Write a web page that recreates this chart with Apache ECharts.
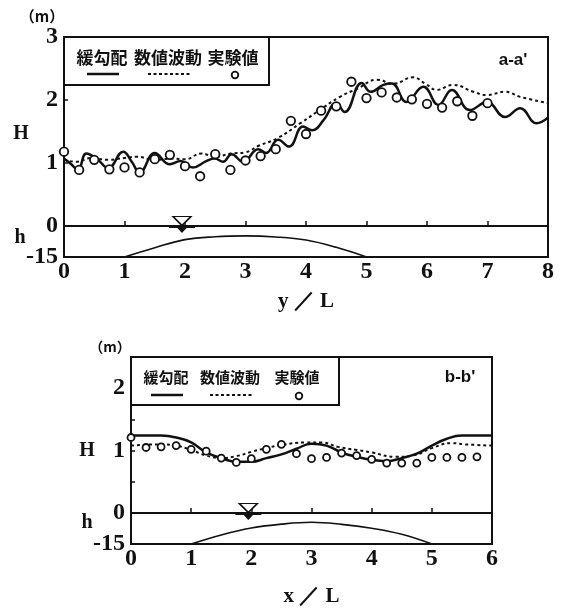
<!DOCTYPE html>
<html>
<head>
<meta charset="utf-8">
<script src="https://cdn.jsdelivr.net/npm/echarts@6/dist/echarts.min.js"></script>
<style>
  html, body { margin: 0; padding: 0; background: #fff; }
  #chart { width: 561px; height: 608px; }
</style>
</head>
<body>
<div id="chart"></div>
<script>
// ---- section a-a' (along y/L) ----
const mildSlopeA = [
  [0.00,1.07],[0.12,0.98],[0.23,0.89],[0.37,1.15],[0.55,1.06],[0.73,0.92],[0.98,1.18],
  [1.12,1.02],[1.25,0.85],[1.50,1.16],[1.75,0.98],[1.93,1.03],[2.13,0.93],[2.35,1.03],
  [2.49,1.07],[2.63,1.02],[2.77,1.14],[2.96,1.02],[3.21,1.22],[3.34,1.16],[3.54,1.37],
  [3.72,1.26],[3.95,1.58],[4.10,1.52],[4.29,1.68],[4.50,1.95],[4.64,1.81],[4.92,2.27],
  [5.07,2.13],[5.28,2.24],[5.42,2.26],[5.66,1.97],[5.94,2.21],[6.19,1.92],[6.41,2.16],
  [6.71,1.84],[6.99,1.97],[7.29,1.73],[7.54,1.87],[7.81,1.63],[8.00,1.72]
];
const numericalA = [
  [0.00,1.05],[0.20,1.02],[0.45,1.08],[0.73,1.05],[1.00,1.08],[1.20,1.10],[1.50,1.05],
  [1.80,1.07],[2.00,1.06],[2.27,1.15],[2.50,1.10],[2.75,1.15],[3.00,1.17],[3.21,1.27],
  [3.54,1.40],[3.92,1.64],[4.18,1.81],[4.56,2.05],[4.85,2.18],[5.17,2.32],[5.45,2.26],
  [5.77,2.36],[5.97,2.26],[6.16,2.16],[6.43,2.24],[6.77,2.13],[6.99,2.08],[7.29,2.13],
  [7.54,2.05],[8.00,1.95]
];
const measuredA = [
  [0.00,1.18],[0.25,0.89],[0.50,1.05],[0.75,0.90],[1.00,0.93],[1.25,0.85],[1.50,1.06],
  [1.75,1.13],[2.00,0.95],[2.25,0.79],[2.50,1.14],[2.75,0.89],[3.00,1.04],[3.25,1.11],
  [3.50,1.22],[3.75,1.67],[4.00,1.46],[4.25,1.83],[4.50,1.90],[4.75,2.29],[5.00,2.03],
  [5.25,2.12],[5.50,2.04],[5.75,2.01],[6.00,1.94],[6.25,1.88],[6.50,1.98],[6.75,1.75],
  [7.00,1.95]
];
const bedA = [[1,-15],[1.5,-10.5],[2,-6.6],[2.5,-5.2],[3,-4.8],[3.5,-5.3],[4,-6.8],[4.5,-10.3],[5,-15]];

// ---- section b-b' (along x/L) ----
const mildSlopeB = [
  [0.00,1.24],[0.50,1.24],[0.75,1.21],[1.00,1.13],[1.25,0.97],[1.50,0.88],[1.75,0.82],
  [2.00,0.82],[2.25,0.88],[2.50,0.94],[2.75,1.03],[3.00,1.11],[3.25,1.08],[3.50,0.97],
  [3.75,0.90],[4.00,0.85],[4.25,0.83],[4.50,0.88],[4.75,0.95],[5.00,1.08],[5.25,1.19],
  [5.50,1.24],[6.00,1.24]
];
const numericalB = [
  [0.00,1.08],[0.50,1.10],[0.75,1.08],[1.00,1.01],[1.25,0.92],[1.50,0.88],[1.75,0.91],
  [2.00,0.98],[2.25,1.04],[2.50,1.09],[2.90,1.13],[3.17,1.13],[3.44,1.06],[3.75,1.01],
  [4.00,0.97],[4.39,0.90],[4.72,0.93],[5.00,1.04],[5.33,1.12],[5.55,1.10],[6.00,1.08]
];
const measuredB = [
  [0.00,1.21],[0.25,1.05],[0.50,1.06],[0.75,1.08],[1.00,1.02],[1.25,0.99],[1.50,0.88],
  [1.75,0.81],[2.00,0.87],[2.25,1.02],[2.50,1.10],[2.75,0.95],[3.00,0.87],[3.25,0.89],
  [3.50,0.96],[3.75,0.92],[4.00,0.86],[4.25,0.80],[4.50,0.80],[4.75,0.80],[5.00,0.89],
  [5.25,0.89],[5.50,0.89],[5.75,0.90]
];
const bedB = [[1,-15],[1.5,-10.6],[2,-7.3],[2.5,-5.4],[3,-4.5],[3.5,-5.5],[4,-7.4],[4.5,-10.3],[5,-15]];

const legendNames = ['緩勾配', '数値波動', '実験値'];
const INK = '#111';
const SERIF = '"Liberation Serif", "DejaVu Serif", serif';
const CJK = '"Noto Sans CJK JP", sans-serif';

const chart = echarts.init(document.getElementById('chart'), null, { renderer: 'canvas' });

function gridBox(left, top, width, height) {
  return { left, top, width, height, show: true, borderColor: INK, borderWidth: 2, backgroundColor: 'transparent', containLabel: false };
}
const tickLabel = { color: INK, fontFamily: SERIF, fontWeight: 'bold', fontSize: 24 };

function xUpper(grid, max) {
  return { type: 'value', gridIndex: grid, min: 0, max, interval: 1,
    axisLine: { show: false }, axisTick: { show: false }, axisLabel: { show: false }, splitLine: { show: false } };
}
function xLower(grid, max, name, gap) {
  return { type: 'value', gridIndex: grid, min: 0, max, interval: 1,
    name, nameLocation: 'middle', nameGap: gap,
    nameTextStyle: { color: INK, fontFamily: SERIF, fontWeight: 'bold', fontSize: 21 },
    axisLine: { show: true, lineStyle: { color: INK, width: 2 } },
    axisTick: { show: true, inside: true, length: 5, lineStyle: { color: INK, width: 1.5 } },
    axisLabel: Object.assign({ margin: 3 }, tickLabel),
    splitLine: { show: false } };
}
function yUpper(grid, max, interval, shown) {
  return { type: 'value', gridIndex: grid, min: 0, max, interval,
    axisLine: { show: true, lineStyle: { color: INK, width: 2 } },
    axisTick: { show: true, inside: true, length: 4, lineStyle: { color: INK, width: 1.5 } },
    axisLabel: Object.assign({ margin: 6, formatter: v => (shown.indexOf(v) >= 0 ? String(v) : '') }, tickLabel),
    splitLine: { show: false } };
}
function yLower(grid) {
  return { type: 'value', gridIndex: grid, min: -15, max: 0, interval: 15,
    axisLine: { show: true, lineStyle: { color: INK, width: 2 } },
    axisTick: { show: false },
    axisLabel: Object.assign({ margin: 6 }, tickLabel),
    splitLine: { show: false } };
}

function waterMark() {
  return {
    silent: true,
    label: { show: false },
    data: [
      { coord: [1.95, 0], symbol: 'triangle', symbolRotate: 180, symbolSize: [18, 9], symbolOffset: [0, -5],
        itemStyle: { color: '#fff', borderColor: INK, borderWidth: 1.5 } },
      { coord: [1.95, 0], symbol: 'path://M0,0 L28,0 L28,2 L19,2 L14,7 L9,2 L0,2 Z', symbolSize: [26, 7], symbolOffset: [0, 3.5],
        itemStyle: { color: INK } }
    ]
  };
}

function panelSeries(xIdx, mild, num, meas, bed, dot) {
  return [
    { name: legendNames[0], type: 'line', xAxisIndex: xIdx, yAxisIndex: xIdx, data: mild, smooth: 0.45,
      showSymbol: false, lineStyle: { color: INK, width: 2.5 }, z: 3 },
    { name: legendNames[1], type: 'line', xAxisIndex: xIdx, yAxisIndex: xIdx, data: num, smooth: 0.45,
      showSymbol: false, lineStyle: { color: INK, width: 2, type: [3, 3] }, z: 3 },
    { name: legendNames[2], type: 'scatter', xAxisIndex: xIdx, yAxisIndex: xIdx, data: meas,
      symbol: 'circle', symbolSize: dot, itemStyle: { color: '#fff', borderColor: INK, borderWidth: 1.8, opacity: 1 }, z: 4 },
    { name: 'bed', type: 'line', xAxisIndex: xIdx + 1, yAxisIndex: xIdx + 1, data: bed, smooth: 0.4,
      showSymbol: false, lineStyle: { color: INK, width: 1.6 }, markPoint: waterMark(), z: 3 }
  ];
}

function legendBox(x, y, w, h, font, textY, lineY, cols) {
  const t = (txt, cx) => ({ type: 'text', x: cx, y: textY, z: 20,
    style: { text: txt, font: 'bold ' + font + 'px ' + CJK, fill: INK, align: 'center', verticalAlign: 'middle',
             textAlign: 'center', textVerticalAlign: 'middle' } });
  return [
    { type: 'rect', z: 19, shape: { x, y, width: w, height: h }, style: { fill: '#fff', stroke: INK, lineWidth: 2 } },
    t(legendNames[0], cols[0]), t(legendNames[1], cols[1]), t(legendNames[2], cols[2]),
    { type: 'line', z: 20, shape: { x1: cols[0] - 15, y1: lineY, x2: cols[0] + 17, y2: lineY }, style: { stroke: INK, lineWidth: 2.5 } },
    { type: 'line', z: 20, shape: { x1: cols[1] - 20, y1: lineY, x2: cols[1] + 22, y2: lineY }, style: { stroke: INK, lineWidth: 2, lineDash: [3, 2.5] } },
    { type: 'circle', z: 20, shape: { cx: cols[2] + 2, cy: lineY + 1, r: 3.3 }, style: { fill: '#fff', stroke: INK, lineWidth: 1.8 } }
  ];
}
function label(txt, x, y, font, size) {
  return { type: 'text', x, y, z: 20,
    style: { text: txt, font: 'bold ' + size + 'px ' + font, fill: INK, align: 'center', verticalAlign: 'middle',
             textAlign: 'center', textVerticalAlign: 'middle' } };
}

chart.setOption({
  backgroundColor: '#fff',
  animation: false,
  grid: [
    gridBox(64, 37, 484, 189),
    gridBox(64, 226, 484, 31),
    gridBox(131, 357, 361, 156),
    gridBox(131, 513, 361, 32)
  ],
  xAxis: [
    xUpper(0, 8),
    xLower(1, 8, 'y ／ L', 34),
    xUpper(2, 6),
    xLower(3, 6, 'x ／ L', 42)
  ],
  yAxis: [
    yUpper(0, 3, 1, [1, 2, 3]),
    yLower(1),
    yUpper(2, 2.5, 0.5, [1, 2]),
    yLower(3)
  ],
  series: [].concat(
    panelSeries(0, mildSlopeA, numericalA, measuredA, bedA, 8.5),
    panelSeries(2, mildSlopeB, numericalB, measuredB, bedB, 7)
  ),
  graphic: [].concat(
    legendBox(64, 37, 205, 48, 17, 58, 74, [102, 168, 233]),
    legendBox(131, 357, 208, 48, 15, 377, 395, [166, 230, 297]),
    [
      label('（m）', 42, 16, CJK, 15),
      label('（m）', 110, 347, CJK, 14),
      label('H', 21, 134, SERIF, 20),
      label('h', 20, 238, SERIF, 20),
      label('H', 87, 451, SERIF, 20),
      label('h', 87, 523, SERIF, 20),
      label("a-a'", 513, 60, '"Liberation Sans", sans-serif', 17),
      label("b-b'", 460, 377, '"Liberation Sans", sans-serif', 17)
    ]
  )
});
</script>
</body>
</html>
